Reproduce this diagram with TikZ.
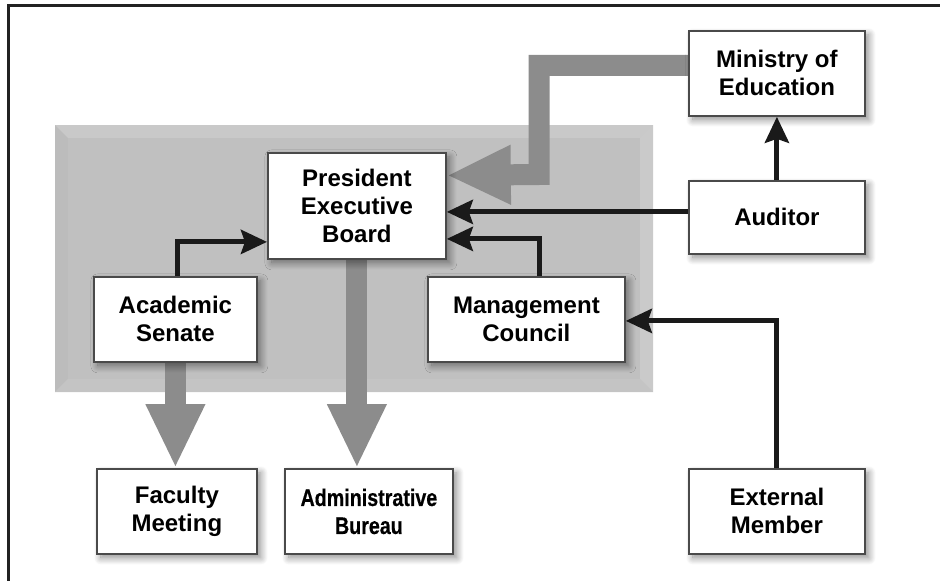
\documentclass[tikz,border=0pt]{standalone}
\usepackage{fontspec}
\setmainfont{Liberation Sans}
\newfontfamily\narrowfam[FakeStretch=0.82,BoldFeatures={FakeBold=0.4}]{Liberation Sans}
\usetikzlibrary{arrows.meta,shadows.blur,calc}
\definecolor{framec}{HTML}{222222}
\definecolor{boxline}{HTML}{4A4A4A}
\definecolor{garrow}{HTML}{8C8C8C}
\definecolor{panelA}{HTML}{C9C9C9}
\definecolor{panelL}{HTML}{BCBCBC}
\definecolor{panelR}{HTML}{CACACA}
\definecolor{panelB}{HTML}{C4C4C4}
\definecolor{panelIn}{HTML}{C0C0C0}
\definecolor{blk}{HTML}{1A1A1A}
\pgfdeclarelayer{back}
\pgfdeclarelayer{mid}
\pgfsetlayers{back,mid,main}
\tikzset{
  orgbox/.style={draw=boxline, line width=1.8pt, fill=white, anchor=north west,
    align=center, inner sep=0pt, font=\bfseries\fontsize{24}{28}\selectfont,
    blur shadow={shadow xshift=4pt, shadow yshift=-4pt, shadow blur radius=7pt,
      shadow blur steps=12, shadow opacity=45}},
  narrowbox/.style={orgbox, font=\narrowfam\bfseries\fontsize{24}{28}\selectfont},
  grayarrow/.style={draw=garrow, line width=21pt,
    -{Triangle[length=64pt,width=55pt,color=garrow]}},
  blackarrow/.style={draw=blk, line width=5pt,
    -{Stealth[length=26pt,width=24pt,inset=4pt,color=blk]}}
}
\begin{document}
\begin{tikzpicture}[x=1pt,y=-1pt]
\useasboundingbox (0,0) rectangle (940,581);
% frame
\draw[framec, line width=2.6pt] (8.7,581) -- (8.7,5.3) -- (940,5.3);
% nodes
\node[orgbox, minimum width=176pt, minimum height=85pt] (min) at (688,30) {Ministry of\\Education};
\node[orgbox, minimum width=176pt, minimum height=73pt] (aud) at (688,180) {Auditor};
\node[orgbox, minimum width=178pt, minimum height=106pt] (pres) at (267,152) {President\\Executive\\Board};
\node[orgbox, minimum width=163pt, minimum height=85pt] (sen) at (93,276) {Academic\\Senate};
\node[orgbox, minimum width=197pt, minimum height=85pt] (mgmt) at (427,276) {Management\\Council};
\node[orgbox, minimum width=160pt, minimum height=85pt] (fac) at (96,468) {Faculty\\Meeting};
\node[narrowbox, minimum width=168pt, minimum height=85pt] (adm) at (284,468) {Administrative\\Bureau};
\node[orgbox, minimum width=176pt, minimum height=85pt] (ext) at (688,468) {External\\Member};
% panel
\begin{pgfonlayer}{back}
  \fill[panelA] (55,125) rectangle (653,392);
  \fill[panelL] (55,125) -- (68,138) -- (68,379) -- (55,392) -- cycle;
  \fill[panelR] (653,125) -- (640,138) -- (640,379) -- (653,392) -- cycle;
  \fill[panelB] (55,392) -- (68,379) -- (640,379) -- (653,392) -- cycle;
  \fill[panelIn] (68,138) rectangle (640,379);
\end{pgfonlayer}
% connectors
\begin{pgfonlayer}{mid}
  \coordinate (g1) at ([yshift=8pt]min.west);
  \coordinate (g2) at ([yshift=30.5pt]pres.east);
  \draw[grayarrow] (g1) -| (539,174.5) -- (g2);
  \draw[grayarrow] (sen.south) -- (sen.south |- fac.north);
  \draw[grayarrow] (pres.south) -- (pres.south |- adm.north);
  \coordinate (a1) at ([yshift=5.5pt]aud.west);
  \draw[blackarrow] (a1) -- (a1 -| pres.east);
  \draw[blackarrow] (aud.north) -- (min.south);
  \draw[blackarrow] ([xshift=13.5pt]mgmt.north) |- ([yshift=-33pt]pres.east);
  \draw[blackarrow] ([xshift=2.5pt]sen.north) |- ([yshift=-36pt]pres.west);
  \draw[blackarrow] (ext.north) |- ([yshift=-1.5pt]mgmt.east);
\end{pgfonlayer}
\end{tikzpicture}
\end{document}
